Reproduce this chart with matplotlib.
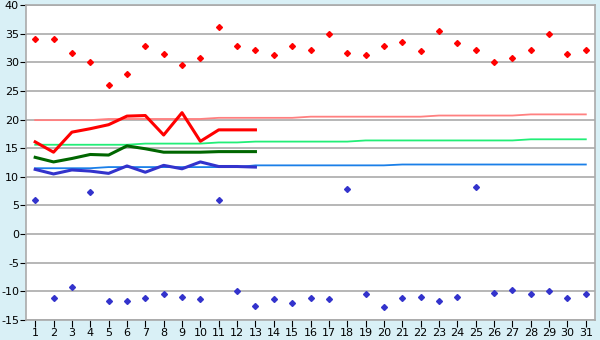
import numpy as np
import matplotlib
matplotlib.use("Agg")
import matplotlib.pyplot as plt

days = list(range(1, 32))

# daily max / min (diamonds)
t_max = [34.0, 34.0, 31.7, 30.0, 26.1, 27.9, 32.8, 31.4, 29.5, 30.7,
         36.1, 32.8, 32.2, 31.2, 32.8, 32.2, 35.0, 31.7, 31.2, 32.8,
         33.6, 31.9, 35.4, 33.3, 32.2, 30.0, 30.7, 32.2, 35.0, 31.4, 32.2]
t_min = [6.0, -11.1, -9.3, 7.3, -11.6, -11.6, -11.1, -10.5, -10.9, -11.4,
         6.0, -10.0, -12.6, -11.4, -12.1, -11.1, -11.4, 7.8, -10.5, -12.8,
         -11.2, -10.9, -11.6, -10.9, 8.3, -10.2, -9.8, -10.5, -10.0, -11.1, -10.5]

# running values for the first 13 days (thick lines)
days_cur = list(range(1, 14))
cur_red = [16.1, 14.3, 17.8, 18.4, 19.1, 20.6, 20.7, 17.3, 21.2, 16.2, 18.2, 18.2, 18.2]
cur_green = [13.4, 12.6, 13.2, 13.9, 13.8, 15.4, 14.9, 14.3, 14.3, 14.3, 14.4, 14.4, 14.4]
cur_blue = [11.3, 10.5, 11.2, 11.0, 10.6, 11.9, 10.8, 12.0, 11.4, 12.6, 11.8, 11.8, 11.7]

# normals (thin lines)
norm_red = [19.9] * 4 + [20.1] * 6 + [20.3] * 5 + [20.5] * 7 + [20.7] * 5 + [20.9] * 4
norm_green = [15.6] * 6 + [15.8] * 4 + [16.0] * 2 + [16.15] * 6 + [16.35] * 9 + [16.55] * 4
norm_blue = [11.5] * 4 + [11.7] * 8 + [12.0] * 8 + [12.15] * 11

y_ticks = list(range(-15, 41, 5))

bg = "#d9f0f6"
fig = plt.figure(figsize=(6, 3.4), dpi=100, facecolor=bg)
ax = fig.add_axes([26 / 600, 20 / 340, 569 / 600, 315 / 340])
ax.set_facecolor("white")

ax.plot(days, norm_red, color="#ff8080", lw=1.3)
ax.plot(days, norm_green, color="#22ee77", lw=1.3)
ax.plot(days, norm_blue, color="#1a7fe8", lw=1.3)

ax.plot(days_cur, cur_red, color="#ff0000", lw=2.2)
ax.plot(days_cur, cur_green, color="#006600", lw=2.2)
ax.plot(days_cur, cur_blue, color="#3333cc", lw=2.2)

ax.plot(days, t_max, ls="none", marker="D", ms=3.0, color="#ff0000")
ax.plot(days, t_min, ls="none", marker="D", ms=3.0, color="#3333cc")

ax.set_xlim(0.5, 31.5)
ax.set_ylim(-15, 40)
ax.set_xticks(days)
ax.set_yticks(y_ticks)
ax.set_yticklabels([str(v) for v in y_ticks])
ax.grid(axis="y", color="#aaaaaa", lw=1.2)
ax.set_axisbelow(True)
for s in ax.spines.values():
    s.set_color("#aaaaaa")
    s.set_linewidth(1.2)
ax.tick_params(axis="both", labelsize=8, color="#000000", width=0.8)
ax.tick_params(axis="x", length=5, pad=1)
ax.tick_params(axis="y", length=4, pad=1)

fig.savefig("out.png", dpi=100, facecolor=bg)
